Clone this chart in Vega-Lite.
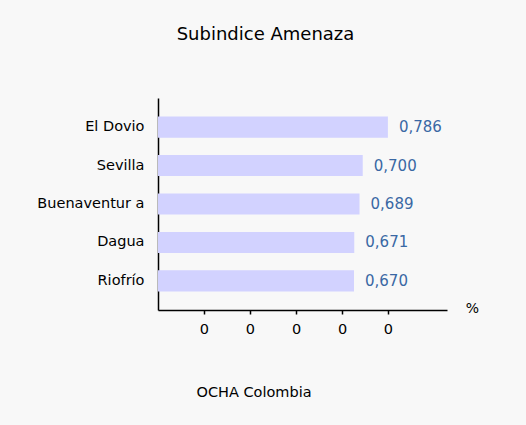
{
  "$schema": "https://vega.github.io/schema/vega-lite/v6.json",
  "width": 289,
  "height": 212,
  "autosize": {"type": "none"},
  "padding": {"left": 158, "top": 98, "right": 79, "bottom": 115},
  "background": "#f8f8f8",
  "title": {
    "text": "Subindice Amenaza",
    "font": "DejaVu Sans",
    "fontSize": 18,
    "fontWeight": "normal",
    "color": "#000000",
    "anchor": "middle",
    "dx": -37,
    "offset": 54
  },
  "data": {
    "values": [
      {"municipio": "El Dovio", "valor": 0.786},
      {"municipio": "Sevilla", "valor": 0.7},
      {"municipio": "Buenaventur a", "valor": 0.689},
      {"municipio": "Dagua", "valor": 0.671},
      {"municipio": "Riofrío", "valor": 0.67}
    ]
  },
  "encoding": {
    "y": {
      "field": "municipio",
      "type": "nominal",
      "sort": null,
      "scale": {"paddingInner": 0.45, "paddingOuter": 0.48},
      "axis": {
        "title": "%",
        "titleAngle": 0,
        "titleX": 314,
        "titleY": 210,
        "titleAlign": "center",
        "titleBaseline": "middle",
        "titleFont": "DejaVu Sans",
        "titleFontSize": 14,
        "titleFontWeight": "normal",
        "titleColor": "#000000",
        "ticks": false,
        "labelPadding": 14,
        "labelFont": "DejaVu Sans",
        "labelFontSize": 14.5,
        "labelColor": "#000000",
        "domainColor": "#000000",
        "domainWidth": 1.5
      }
    },
    "x": {
      "field": "valor",
      "type": "quantitative",
      "scale": {"domain": [0, 0.988], "nice": false},
      "axis": {
        "title": "OCHA Colombia",
        "titleAnchor": "start",
        "titleAlign": "left",
        "titleBaseline": "middle",
        "titleX": 38,
        "titleY": 82,
        "titleFont": "DejaVu Sans",
        "titleFontSize": 14.5,
        "titleFontWeight": "normal",
        "titleColor": "#000000",
        "values": [0.157, 0.314, 0.472, 0.629, 0.786],
        "labelExpr": "'0'",
        "grid": false,
        "tickSize": 4,
        "tickColor": "#000000",
        "tickWidth": 1.5,
        "labelPadding": 8,
        "labelFont": "DejaVu Sans",
        "labelFontSize": 14.5,
        "labelColor": "#000000",
        "domainColor": "#000000",
        "domainWidth": 1.5
      }
    }
  },
  "layer": [
    {"mark": {"type": "bar", "color": "#d2d2ff"}},
    {
      "mark": {"type": "text", "align": "left", "dx": 11, "font": "DejaVu Sans", "fontSize": 15, "color": "#3a68a4"},
      "encoding": {"text": {"field": "valor", "type": "quantitative", "format": ".3f"}}
    }
  ],
  "config": {
    "view": {"stroke": null},
    "locale": {
      "number": {"decimal": ",", "thousands": ".", "grouping": [3], "currency": ["", " €"]}
    }
  }
}
